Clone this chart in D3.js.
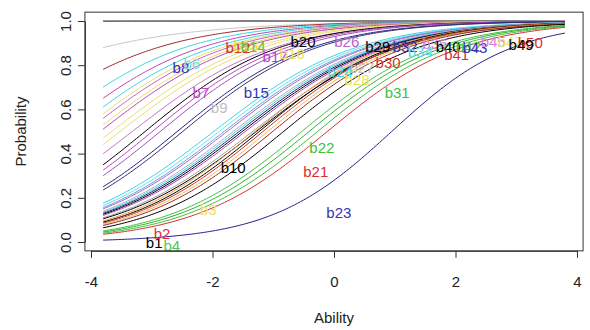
<!DOCTYPE html>
<html>
<head>
<meta charset="utf-8">
<script src="https://cdn.jsdelivr.net/npm/d3@7"></script>
<style>
  body { margin: 0; background: #fff; }
  text { font-family: "Liberation Sans", Arial, sans-serif; }
</style>
</head>
<body>
<div id="chart"></div>
<script>
// item parameters (2PL, logit scale)
var itemA = [1.0, 0.65, 0.8, 0.85, 0.85, 0.85, 0.85, 0.85, 0.85, 0.85,
             0.85, 0.85, 0.85, 0.9, 0.9, 0.9, 0.9, 0.9, 0.85, 0.85,
             0.85, 0.85, 0.85, 0.85, 0.85, 0.85, 0.85, 0.85, 0.85, 0.9,
             0.9, 0.9, 0.9, 0.9, 0.9, 0.9, 0.9, 0.9, 0.9, 1.0];
var itemB = [-11.5, -6.86, -5.39, -4.80, -4.53, -4.33, -4.18, -4.08, -3.94, -3.85,
             -3.66, -3.52, -3.32, -3.11, -2.99, -2.86, -2.58, -2.49, -1.98, -1.89,
             -1.81, -1.76, -1.66, -1.61, -1.56, -1.51, -1.46, -1.34, -1.28, -1.30,
             -1.23, -1.17, -1.09, -1.01, -0.83, -0.53, -0.41, -0.27, -0.11, 0.95];
var itemCol = ["#000000", "#C8C8C8", "#A0282D", "#3CD6E0", "#B848B8", "#3CD6E0", "#E6E070", "#C860C8", "#E6E070", "#B848B8",
               "#E6E070", "#E6E070", "#C870C8", "#000000", "#B848B8", "#A050C0", "#22228F", "#333366", "#3CD6E0", "#6FE0E8",
               "#5AA8E8", "#B060C0", "#B0B0B0", "#3CD6E0", "#22228F", "#000000", "#B848B8", "#A0A0A0", "#000000", "#E8A040",
               "#000000", "#D83030", "#E8C040", "#A0282D", "#000000", "#40C040", "#30B030", "#40C040", "#D83030", "#22228F"];

// item labels: name, ability, probability, colour
var labNames = ["b1", "b2", "b4", "b3", "b10", "b8", "b6", "b7", "b9", "b12", "b13", "b14", "b15", "b17", "b16", "b20",
                "b21", "b22", "b23", "b26", "b24", "b27", "b28", "b29", "b30", "b31", "b32", "b34", "b36", "b40",
                "b41", "b42", "b43", "b45", "b47", "b50", "b49"];
var labX = [-2.96, -2.83, -2.67, -2.07, -1.66, -2.52, -2.34, -2.19, -1.89, -1.58, -1.45, -1.33, -1.28, -0.97, -0.69, -0.51,
            -0.30, -0.20, 0.08, 0.21, 0.10, 0.46, 0.38, 0.72, 0.89, 1.04, 1.17, 1.42, 1.66, 1.88,
            2.02, 2.21, 2.32, 2.62, 2.90, 3.23, 3.08];
var labY = [-0.005, 0.036, -0.018, 0.145, 0.335, 0.787, 0.805, 0.674, 0.606, 0.878, 0.887, 0.882, 0.674, 0.837, 0.851, 0.905,
            0.317, 0.425, 0.131, 0.905, 0.769, 0.787, 0.733, 0.882, 0.81, 0.674, 0.882, 0.86, 0.896, 0.882,
            0.846, 0.882, 0.878, 0.905, 0.905, 0.90, 0.891];
var labCol = ["#000000", "#E03048", "#50C850", "#F0E060", "#000000", "#3333B2", "#6FE0E8", "#C040D0", "#BEBEBE", "#D83030", "#E8D840", "#60C040", "#3333B2", "#C040D0", "#E8E060", "#000000",
              "#D83030", "#40C040", "#3333B2", "#C060D0", "#40D8E0", "#BEBEBE", "#F0E040", "#000000", "#D83030", "#40C040", "#3333B2", "#60D8E8", "#D080E0", "#000000",
              "#D83030", "#40C040", "#3333B2", "#D080E0", "#F0E080", "#D83030", "#000000"];

var xTicks = [-4, -2, 0, 2, 4];
var yTicks = [0, 0.2, 0.4, 0.6, 0.8, 1.0];

var width = 590, height = 330;
var svg = d3.select('#chart').append('svg')
            .attr('width', width).attr('height', height);

var x = d3.scaleLinear().domain([-4, 4]).range([91, 577]);
var y = d3.scaleLinear().domain([0, 1]).range([242, 21]);

var theta = d3.range(-3.8, 3.8001, 0.05);
function icc(a, b) {
  return theta.map(function(t) { return [t, 1 / (1 + Math.exp(-a * (t - b)))]; });
}

var line = d3.line().x(function(d) { return x(d[0]); }).y(function(d) { return y(d[1]); });

svg.append('g').selectAll('path')
  .data(itemA.map(function(a, i) { return {pts: icc(a, itemB[i]), col: itemCol[i]}; }))
  .enter().append('path')
  .attr('d', function(d) { return line(d.pts); })
  .attr('fill', 'none')
  .attr('stroke', function(d) { return d.col; })
  .attr('stroke-width', 1);

svg.append('g').selectAll('text')
  .data(labNames)
  .enter().append('text')
  .attr('x', function(d, i) { return x(labX[i]); })
  .attr('y', function(d, i) { return y(labY[i]); })
  .attr('dy', '0.35em')
  .attr('text-anchor', 'middle')
  .attr('font-size', 15)
  .attr('fill', function(d, i) { return labCol[i]; })
  .text(function(d) { return d; });

// plot box
svg.append('rect')
  .attr('x', x(-4.1)).attr('y', y(1.04))
  .attr('width', x(4.1) - x(-4.1)).attr('height', y(-0.04) - y(1.04))
  .attr('fill', 'none').attr('stroke', '#333');

var xAxis = svg.append('g')
  .attr('transform', 'translate(0,' + y(-0.04) + ')')
  .call(d3.axisBottom(x).tickValues(xTicks).tickSize(7).tickSizeOuter(0).tickPadding(19)
        .tickFormat(function(d) { return String(d); }));
xAxis.selectAll('text').attr('font-size', 15).attr('fill', '#222');

var yAxis = svg.append('g')
  .attr('transform', 'translate(' + x(-4.1) + ',0)')
  .call(d3.axisLeft(y).tickValues(yTicks).tickSize(7).tickSizeOuter(0).tickFormat(d3.format('.1f')));
yAxis.selectAll('text')
  .attr('transform', 'rotate(-90)')
  .attr('x', 0).attr('y', -19).attr('dy', '0.35em')
  .attr('text-anchor', 'middle')
  .attr('font-size', 15).attr('fill', '#222');
svg.selectAll('.domain, .tick line').attr('stroke', '#333');
svg.selectAll('.tick text').attr('font-family', '"Liberation Sans", Arial, sans-serif');

svg.append('text')
  .attr('x', x(0)).attr('y', 318).attr('dy', '0.35em')
  .attr('text-anchor', 'middle').attr('font-size', 15).attr('fill', '#222')
  .text('Ability');

svg.append('text')
  .attr('transform', 'translate(21,' + y(0.5) + ') rotate(-90)')
  .attr('dy', '0.35em')
  .attr('text-anchor', 'middle').attr('font-size', 15).attr('fill', '#222')
  .text('Probability');
</script>
</body>
</html>
